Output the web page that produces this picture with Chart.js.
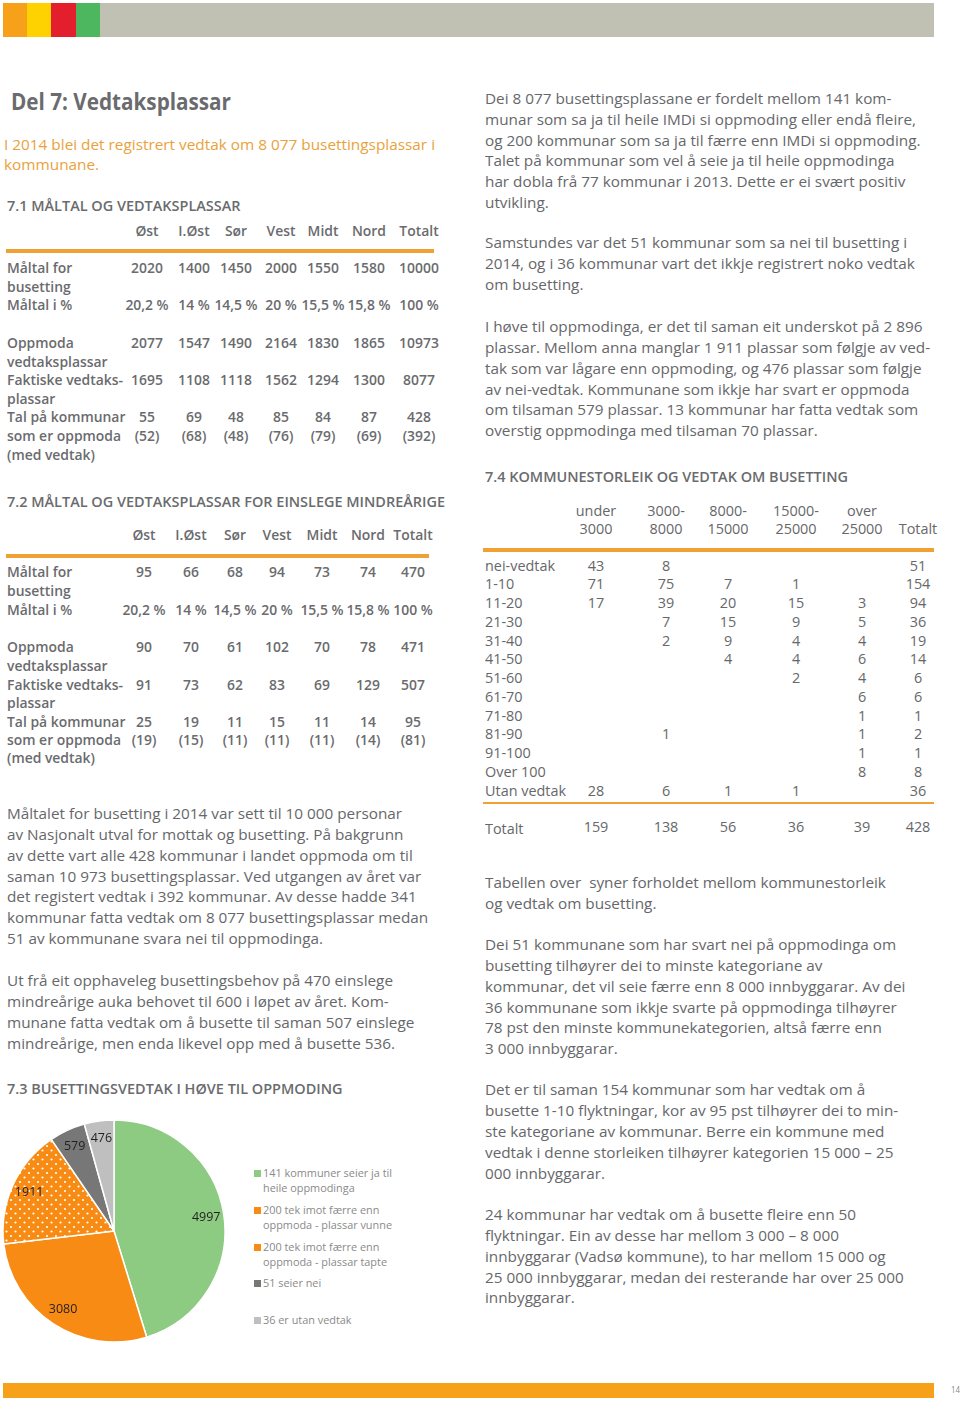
<!DOCTYPE html>
<html><head><meta charset="utf-8">
<script src="https://cdn.jsdelivr.net/npm/chart.js@4.4.1/dist/chart.umd.min.js"></script>
<style>
html,body{margin:0;padding:0;background:#fff;}
#page{position:relative;width:960px;height:1402px;overflow:hidden;font-family:"Open Sans",sans-serif;color:#6d6e71;}
.t{position:absolute;white-space:pre;line-height:1;}
.blk{position:absolute;}
#pieBox{position:absolute;left:0;top:1117px;width:228px;height:228px;}
</style></head><body><div id="page"><div id="pieBox"><canvas id="pie"></canvas></div></div>
<script>
// ---------- DATA ----------
const pieLabels = [
  ["141 kommuner seier ja til","heile oppmodinga"],
  ["200 tek imot færre enn","oppmoda - plassar vunne"],
  ["200 tek imot færre enn","oppmoda - plassar tapte"],
  ["51 seier nei"],
  ["36 er utan vedtak"]
];
const pieValues = [4997, 3080, 1911, 579, 476];

const regions = ["Øst","I.Øst","Sør","Vest","Midt","Nord","Totalt"];
const t1Maltal = [2020,1400,1450,2000,1550,1580,10000];
const t1Pct = ["20,2 %","14 %","14,5 %","20 %","15,5 %","15,8 %","100 %"];
const t1Oppmoda = [2077,1547,1490,2164,1830,1865,10973];
const t1Faktiske = [1695,1108,1118,1562,1294,1300,8077];
const t1Kommunar = [55,69,48,85,84,87,428];
const t1MedVedtak = [52,68,48,76,79,69,392];

const t2Maltal = [95,66,68,94,73,74,470];
const t2Pct = ["20,2 %","14 %","14,5 %","20 %","15,5 %","15,8 %","100 %"];
const t2Oppmoda = [90,70,61,102,70,78,471];
const t2Faktiske = [91,73,62,83,69,129,507];
const t2Kommunar = [25,19,11,15,11,14,95];
const t2MedVedtak = [19,15,11,11,11,14,81];

const sizeBands = [["under","3000"],["3000-","8000"],["8000-","15000"],["15000-","25000"],["over","25000"],["","Totalt"]];
const t3Rows = ["nei-vedtak","1-10","11-20","21-30","31-40","41-50","51-60","61-70","71-80","81-90","91-100","Over 100","Utan vedtak"];
const t3Values = [
  [43,8,null,null,null,51],
  [71,75,7,1,null,154],
  [17,39,20,15,3,94],
  [null,7,15,9,5,36],
  [null,2,9,4,4,19],
  [null,null,4,4,6,14],
  [null,null,null,2,4,6],
  [null,null,null,null,6,6],
  [null,null,null,null,1,1],
  [null,1,null,null,1,2],
  [null,null,null,null,1,1],
  [null,null,null,null,8,8],
  [28,6,1,1,null,36]
];
const t3Totals = [159,138,56,36,39,428];

// ---------- STYLES ----------
const styles = {
  h1:   {w:700,s:24,c:"#6a6b6e",sample:"Del 7: Vedtaksplassar",target:220},
  intro:{w:400,s:15,c:"#e9a23b",sample:"I 2014 blei det registrert vedtak om 8 077 busettingsplassar i",target:431},
  sec:  {w:600,s:14,c:"#6a6b6e",sample:"7.2 MÅLTAL OG VEDTAKSPLASSAR FOR EINSLEGE MINDREÅRIGE",target:438},
  body: {w:400,s:15.3,c:"#66676a",sample:"Måltalet for busetting i 2014 var sett til 10 000 personar",target:395},
  tbl:  {w:600,s:14.5,c:"#6a6b6e",sample:"Faktiske vedtaks-",target:116},
  tbl3: {w:400,s:14.5,c:"#66676a",sample:"Utan vedtak",target:81},
  leg:  {w:400,s:11,c:"#8a8a8a",sample:"141 kommuner seier ja til",target:129},
  pg:   {w:400,s:9,c:"#888",sample:"14",target:9}
};
const mc = document.createElement('canvas').getContext('2d');
for (const k in styles){
  const st = styles[k];
  mc.font = `${st.w} ${st.s}px "Open Sans"`;
  st.k = st.target / mc.measureText(st.sample).width;
}
const page = document.getElementById('page');
function T(text, x, y, cls, align){
  const st = styles[cls];
  const d = document.createElement('div');
  d.className = 't';
  d.textContent = text;
  d.style.fontWeight = st.w;
  d.style.fontSize = st.s + 'px';
  d.style.color = st.c;
  d.style.left = x + 'px';
  d.style.top = (y - 0.57*st.s) + 'px';
  if (align === 'center'){
    d.style.transformOrigin = '50% 50%';
    d.style.transform = `translateX(-50%) scaleX(${st.k})`;
  } else {
    d.style.transformOrigin = '0 50%';
    d.style.transform = `scaleX(${st.k})`;
  }
  page.appendChild(d);
  return d;
}
function R(x,y,w,h,c){
  const d=document.createElement('div'); d.className='blk';
  Object.assign(d.style,{left:x+'px',top:y+'px',width:w+'px',height:h+'px',background:c});
  page.appendChild(d); return d;
}
function P(lines, x, ys, cls){ lines.forEach((l,i)=>T(l,x,ys[i],cls)); }
function steps(y0, n, dy){ return Array.from({length:n},(_,i)=>y0+i*dy); }

// ---------- BARS ----------
R(3,3,24,34,"#f7a11a"); R(27,3,24,34,"#fed100"); R(51,3,25,34,"#e41f2d"); R(76,3,24,34,"#4db760"); R(100,3,834,34,"#c0c0b3");
R(3,1383,931,15,"#f7a11a");
T("14",951,1390,'pg');

// ---------- LEFT COLUMN ----------
T("Del 7: Vedtaksplassar", 11, 103, 'h1');
P(["I 2014 blei det registrert vedtak om 8 077 busettingsplassar i","kommunane."],4,[146,166],'intro');
T("7.1 MÅLTAL OG VEDTAKSPLASSAR", 7, 207, 'sec');

function table(cols, headY, lineY, lineRight, rows){
  regions.forEach((r,i)=>T(r,cols[i],headY,'tbl','center'));
  R(6,lineY-2,lineRight-6,3.5,"#f0a133");
  rows.forEach(r=>{
    T(r.label,7,r.y,'tbl');
    if (r.vals) r.vals.forEach((v,i)=>T(r.fmt?r.fmt(v):String(v),cols[i],r.y,'tbl','center'));
  });
}
const paren = v=>"("+v+")";
table([147,194,236,281,323,369,419],232,251,434,[
  {y:269,label:"Måltal for",vals:t1Maltal},
  {y:288,label:"busetting"},
  {y:306,label:"Måltal i %",vals:t1Pct},
  {y:344,label:"Oppmoda",vals:t1Oppmoda},
  {y:363,label:"vedtaksplassar"},
  {y:381,label:"Faktiske vedtaks-",vals:t1Faktiske},
  {y:400,label:"plassar"},
  {y:418,label:"Tal på kommunar",vals:t1Kommunar},
  {y:437,label:"som er oppmoda",vals:t1MedVedtak,fmt:paren},
  {y:456,label:"(med vedtak)"}
]);
T("7.2 MÅLTAL OG VEDTAKSPLASSAR FOR EINSLEGE MINDREÅRIGE", 7, 503, 'sec');
table([144,191,235,277,322,368,413],536,556,429,[
  {y:573,label:"Måltal for",vals:t2Maltal},
  {y:592,label:"busetting"},
  {y:611,label:"Måltal i %",vals:t2Pct},
  {y:648,label:"Oppmoda",vals:t2Oppmoda},
  {y:667,label:"vedtaksplassar"},
  {y:686,label:"Faktiske vedtaks-",vals:t2Faktiske},
  {y:704,label:"plassar"},
  {y:723,label:"Tal på kommunar",vals:t2Kommunar},
  {y:741,label:"som er oppmoda",vals:t2MedVedtak,fmt:paren},
  {y:759,label:"(med vedtak)"}
]);

P(["Måltalet for busetting i 2014 var sett til 10 000 personar",
   "av Nasjonalt utval for mottak og busetting. På bakgrunn",
   "av dette vart alle 428 kommunar i landet oppmoda om til",
   "saman 10 973 busettingsplassar. Ved utgangen av året var",
   "det registert vedtak i 392 kommunar. Av desse hadde 341",
   "kommunar fatta vedtak om 8 077 busettingsplassar medan",
   "51 av kommunane svara nei til oppmodinga."],7,steps(815,7,20.8),'body');
P(["Ut frå eit opphaveleg busettingsbehov på 470 einslege",
   "mindreårige auka behovet til 600 i løpet av året. Kom-",
   "munane fatta vedtak om å busette til saman 507 einslege",
   "mindreårige, men enda likevel opp med å busette 536."],7,steps(982,4,20.8),'body');
T("7.3 BUSETTINGSVEDTAK I HØVE TIL OPPMODING", 7, 1090, 'sec');

// ---------- RIGHT COLUMN ----------
P(["Dei 8 077 busettingsplassane er fordelt mellom 141 kom-",
   "munar som sa ja til heile IMDi si oppmoding eller endå fleire,",
   "og 200 kommunar som sa ja til færre enn IMDi si oppmoding.",
   "Talet på kommunar som vel å seie ja til heile oppmodinga",
   "har dobla frå 77 kommunar i 2013. Dette er ei svært positiv",
   "utvikling."],485,steps(100,6,20.7),'body');
P(["Samstundes var det 51 kommunar som sa nei til busetting i",
   "2014, og i 36 kommunar vart det ikkje registrert noko vedtak",
   "om busetting."],485,steps(244,3,20.8),'body');
P(["I høve til oppmodinga, er det til saman eit underskot på 2 896",
   "plassar. Mellom anna manglar 1 911 plassar som følgje av ved-",
   "tak som var lågare enn oppmoding, og 476 plassar som følgje",
   "av nei-vedtak. Kommunane som ikkje har svart er oppmoda",
   "om tilsaman 579 plassar. 13 kommunar har fatta vedtak som",
   "overstig oppmodinga med tilsaman 70 plassar."],485,steps(328,6,20.8),'body');
T("7.4 KOMMUNESTORLEIK OG VEDTAK OM BUSETTING", 485, 478, 'sec');

const cols3 = [596,666,728,796,862,918];
sizeBands.forEach((b,i)=>{ if(b[0]) T(b[0],cols3[i],512,'tbl3','center'); T(b[1],cols3[i],530,'tbl3','center'); });
R(483,548,451,3.5,"#f0a133");
const ys3 = steps(567,13,18.75);
t3Rows.forEach((lab,r)=>{
  T(lab,485,ys3[r],'tbl3');
  t3Values[r].forEach((v,i)=>{ if(v!==null) T(String(v),cols3[i],ys3[r],'tbl3','center'); });
});
R(483,802,451,1.6,"#f0a133");
T("Totalt",485,830,'tbl3');
t3Totals.forEach((v,i)=>T(String(v),cols3[i],828,'tbl3','center'));

P(["Tabellen over  syner forholdet mellom kommunestorleik","og vedtak om busetting."],485,[884,905],'body');
P(["Dei 51 kommunane som har svart nei på oppmodinga om",
   "busetting tilhøyrer dei to minste kategoriane av",
   "kommunar, det vil seie færre enn 8 000 innbyggarar. Av dei",
   "36 kommunane som ikkje svarte på oppmodinga tilhøyrer",
   "78 pst den minste kommunekategorien, altså færre enn",
   "3 000 innbyggarar."],485,steps(946,6,20.8),'body');
P(["Det er til saman 154 kommunar som har vedtak om å",
   "busette 1-10 flyktningar, kor av 95 pst tilhøyrer dei to min-",
   "ste kategoriane av kommunar. Berre ein kommune med",
   "vedtak i denne storleiken tilhøyrer kategorien 15 000 – 25",
   "000 innbyggarar."],485,steps(1091,5,20.9),'body');
P(["24 kommunar har vedtak om å busette fleire enn 50",
   "flyktningar. Ein av desse har mellom 3 000 – 8 000",
   "innbyggarar (Vadsø kommune), to har mellom 15 000 og",
   "25 000 innbyggarar, medan dei resterande har over 25 000",
   "innbyggarar."],485,steps(1216,5,20.75),'body');

// ---------- PIE ----------
const GREEN="#8ccb81", ORANGE="#f78b14", DARK="#777777", LIGHT="#bfbfbf";
function dotPattern(){
  const c=document.createElement('canvas'); c.width=9; c.height=9;
  const x=c.getContext('2d');
  x.fillStyle=ORANGE; x.fillRect(0,0,9,9);
  x.fillStyle="#ffffff";
  x.beginPath(); x.arc(2,2,1.1,0,Math.PI*2); x.fill();
  x.beginPath(); x.arc(6.5,6.5,1.1,0,Math.PI*2); x.fill();
  return x.createPattern(c,'repeat');
}
const sliceColors=[GREEN,ORANGE,dotPattern(),DARK,LIGHT];
const legendColors=[GREEN,ORANGE,ORANGE,DARK,LIGHT];

const sliceLabels={id:'sliceLabels',afterDatasetsDraw(chart){
  const ctx=chart.ctx, meta=chart.getDatasetMeta(0), ds=chart.data.datasets[0];
  ctx.save();
  ctx.font='12.5px "Open Sans"'; ctx.fillStyle='#231f20'; ctx.textAlign='center'; ctx.textBaseline='middle';
  meta.data.forEach((arc,i)=>{
    const p=arc.getProps(['x','y','startAngle','endAngle','outerRadius'],true);
    const a=(p.startAngle+p.endAngle)/2, r=p.outerRadius*0.84;
    ctx.fillText(String(ds.data[i]), p.x+Math.cos(a)*r, p.y+Math.sin(a)*r);
  });
  ctx.restore();
}};
new Chart(document.getElementById('pie'),{
  type:'pie',
  data:{labels:pieLabels,datasets:[{data:pieValues,backgroundColor:sliceColors,borderColor:'#ffffff',borderWidth:1.5,radius:111,hoverOffset:0}]},
  options:{responsive:true,maintainAspectRatio:false,animation:false,events:[],
    layout:{padding:0},
    plugins:{legend:{display:false},tooltip:{enabled:false}}},
  plugins:[sliceLabels]
});

// HTML legend built from the same labels
const legYs=[1173,1210,1247,1283,1320];
pieLabels.forEach((lines,i)=>{
  R(254,legYs[i]-3.5,7,7,legendColors[i]);
  lines.forEach((l,j)=>T(l,263,legYs[i]+j*15,'leg'));
});
</script>
</body></html>
